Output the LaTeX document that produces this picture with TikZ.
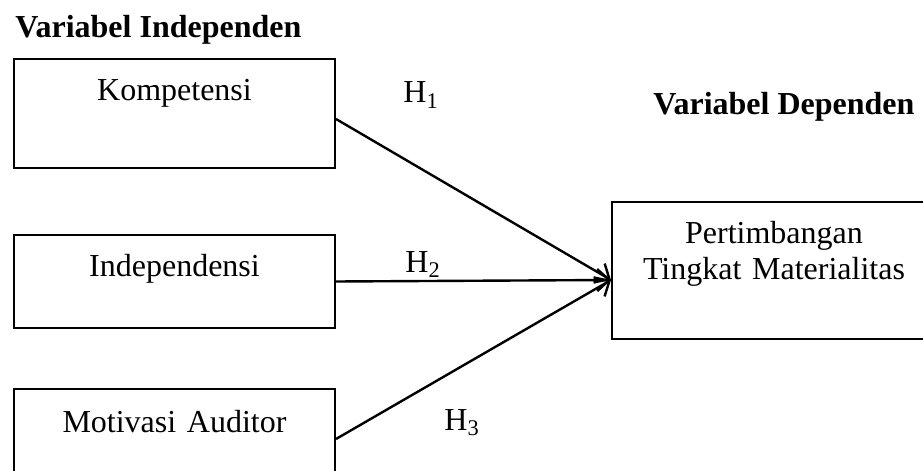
\documentclass[tikz,border=0pt]{standalone}
\usepackage{fontspec}
\setmainfont{Liberation Serif}
\usetikzlibrary{arrows.meta}
\begin{document}
\begin{tikzpicture}[x=0.5pt,y=-0.5pt,font=\fontsize{16}{18}\selectfont,
    var/.style={draw,line width=1pt,inner sep=0pt,anchor=north west,align=center},
    judul/.style={anchor=base west,inner sep=0pt,font=\fontsize{16}{18}\selectfont\bfseries},
    hip/.style={anchor=base west,inner sep=0pt},
    panah/.style={line width=1.2pt,-{Straight Barb[length=6pt,width=11pt]}}]
  \useasboundingbox (0,0) rectangle (923,471);
  \node[judul] (judulx) at (15,38) {Variabel Independen};
  \node[judul] (juduly) at (653,114) {Variabel Dependen};
  \node[var,text width=160.5pt,text height=20.5pt,text depth=34pt] (komp) at (13,58) {Kompetensi};
  \node[var,text width=160.5pt,text height=20.5pt,text depth=26pt] (indep) at (13,234) {Independensi};
  \node[var,text width=160.5pt,text height=21.5pt,text depth=28.5pt] (motiv) at (13,388) {Motivasi Auditor};
  % box runs past the right edge, text kept centred at x=773
  \node[var,text width=190pt,text height=20.5pt,text depth=48pt] (dep) at (611,201)
    {Pertimbangan\hspace{28pt}\mbox{}\\Tingkat Materialitas\hspace{28pt}\mbox{}};
  \coordinate (tuju) at ([yshift=-4.75pt]dep.west);
  \draw[panah] ([yshift=-2.75pt]komp.east) -- (tuju);
  \draw[panah] (indep.east) -- (tuju);
  \draw[panah] (motiv.east) -- (tuju);
  \node[hip] (h1) at (403,103) {H\textsubscript{1}};
  \node[hip] (h2) at (405,272) {H\textsubscript{2}};
  \node[hip] (h3) at (444,430) {H\textsubscript{3}};
\end{tikzpicture}
\end{document}
